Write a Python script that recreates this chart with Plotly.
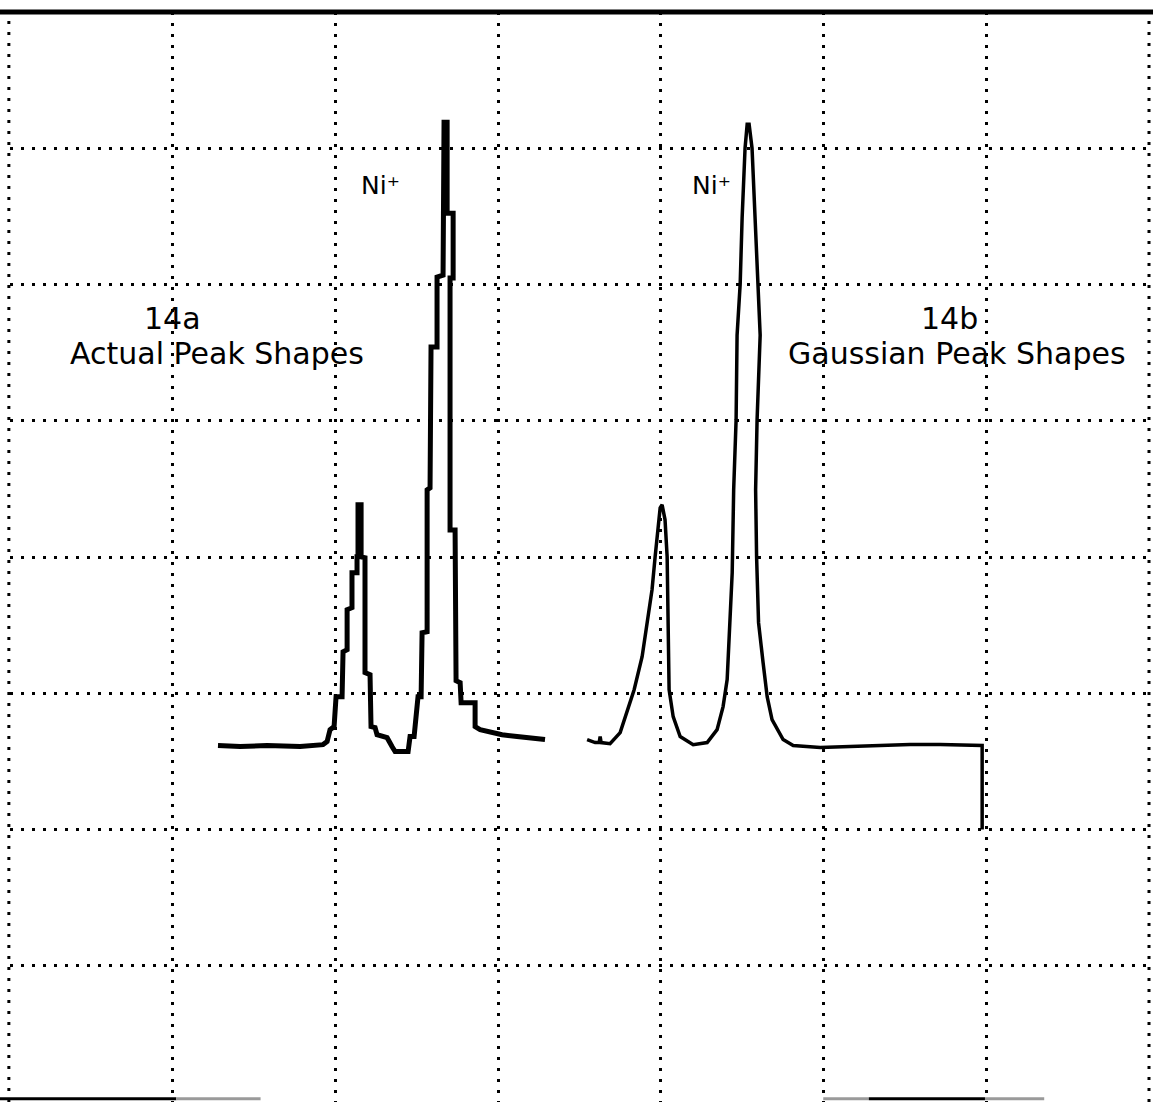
import plotly.graph_objects as go

# Grid units: 10 per major division (7 divisions across, 8 down)
# 14a - actual (stepped) peak shapes
actual_x = [12.77, 14.13, 15.79, 17.82, 19.23, 19.48, 19.66, 19.91, 20.03, 20.40,
            20.46, 20.71, 20.71, 21.01, 21.01, 21.32, 21.32, 21.38, 21.38, 21.57,
            21.57, 21.81, 21.81, 22.12, 22.18, 22.43, 22.55, 23.17, 23.47, 23.66,
            24.46, 24.58, 24.83, 25.07, 25.26, 25.32, 25.63, 25.63, 25.81, 25.87,
            26.24, 26.24, 26.61, 26.67, 26.86, 26.86, 27.23, 27.23, 27.04, 27.04,
            27.35, 27.41, 27.66, 27.72, 28.58, 28.58, 28.89, 29.69, 30.24, 31.16,
            32.15, 32.88]
actual_y = [26.16, 26.09, 26.16, 26.09, 26.23, 26.45, 27.33, 27.55, 29.75, 29.75,
            33.05, 33.20, 36.13, 36.28, 38.84, 38.84, 40.01, 40.01, 43.83, 43.83,
            40.01, 39.94, 31.51, 31.36, 27.55, 27.48, 26.96, 26.74, 26.09, 25.72,
            25.72, 26.82, 26.82, 29.75, 29.75, 34.44, 34.52, 44.93, 45.07, 55.41,
            55.41, 60.54, 60.69, 71.91, 71.91, 65.23, 65.23, 60.47, 60.47, 41.99,
            41.99, 30.92, 30.78, 29.31, 29.31, 27.55, 27.33, 27.11, 26.96, 26.82,
            26.74, 26.60]

# 14b - Gaussian peak shapes
gauss_x = [35.47, 35.96, 36.21, 36.27, 36.33, 36.88, 37.50, 38.11, 38.36, 38.85,
           39.16, 39.46, 39.65, 39.83, 39.96, 40.08, 40.26, 40.39, 40.45, 40.51,
           40.76, 41.19, 41.99, 42.85, 43.46, 43.83, 44.08, 44.26, 44.39, 44.48,
           44.63, 44.69, 44.88, 45.00, 45.18, 45.31, 45.43, 45.61, 45.80, 46.01,
           46.11, 45.92, 45.83, 45.89, 46.01, 46.29, 46.54, 46.84, 47.52, 48.14,
           49.80, 51.64, 53.49, 55.33, 57.18, 58.71, 59.64, 59.76, 59.76]
gauss_y = [26.60, 26.38, 26.38, 26.82, 26.38, 26.30, 27.11, 29.31, 30.26, 32.68,
           35.18, 37.60, 40.01, 42.51, 43.61, 43.83, 42.73, 40.01, 35.18, 30.26,
           28.28, 26.82, 26.23, 26.38, 27.33, 29.02, 31.00, 35.18, 38.84, 44.93,
           50.06, 56.29, 60.03, 64.87, 70.00, 71.76, 71.76, 70.00, 64.87, 60.03,
           56.29, 50.06, 44.93, 40.01, 35.18, 32.24, 29.75, 28.06, 26.60, 26.16,
           26.01, 26.09, 26.16, 26.23, 26.23, 26.16, 26.16, 26.16, 20.00]

label_a = ["14a", "Actual Peak Shapes"]
label_b = ["14b", "Gaussian Peak Shapes"]
ion_label = "Ni\u207a"

fig = go.Figure()
fig.add_trace(go.Scatter(x=actual_x, y=actual_y, mode="lines",
                         line=dict(color="black", width=5), hoverinfo="skip"))
fig.add_trace(go.Scatter(x=gauss_x, y=gauss_y, mode="lines",
                         line=dict(color="black", width=3.5), hoverinfo="skip"))

font_big = dict(family="DejaVu Sans", size=30, color="black")
font_ion = dict(family="DejaVu Sans", size=25, color="black")
ann = [
    dict(x=10.0, y=57.50, text=label_a[0], font=font_big),
    dict(x=12.71, y=54.93, text=label_a[1], font=font_big),
    dict(x=57.73, y=57.50, text=label_b[0], font=font_big),
    dict(x=58.22, y=54.93, text=label_b[1], font=font_big),
    dict(x=22.75, y=67.30, text=ion_label, font=font_ion),
    dict(x=43.10, y=67.30, text=ion_label, font=font_ion),
]
for a in ann:
    a.update(xref="x", yref="y", showarrow=False, xanchor="center", yanchor="middle")

dot = "3px,8px"
shapes = [
    dict(type="line", xref="paper", yref="paper", x0=-0.02, x1=1.02, y0=1.0, y1=1.0,
         line=dict(color="black", width=5)),
    dict(type="line", xref="paper", yref="paper", x0=-0.001, x1=-0.001, y0=0, y1=1,
         line=dict(color="black", width=3, dash=dot)),
    dict(type="line", xref="paper", yref="paper", x0=1.0, x1=1.0, y0=0, y1=1,
         line=dict(color="black", width=3, dash=dot)),
    dict(type="line", xref="paper", yref="paper", x0=-0.01, x1=0.146, y0=0.003, y1=0.003,
         line=dict(color="black", width=3)),
    dict(type="line", xref="paper", yref="paper", x0=0.146, x1=0.22, y0=0.003, y1=0.003,
         line=dict(color="#9a9a9a", width=3)),
    dict(type="line", xref="paper", yref="paper", x0=0.714, x1=0.754, y0=0.003, y1=0.003,
         line=dict(color="#9a9a9a", width=3)),
    dict(type="line", xref="paper", yref="paper", x0=0.754, x1=0.856, y0=0.003, y1=0.003,
         line=dict(color="black", width=3)),
    dict(type="line", xref="paper", yref="paper", x0=0.856, x1=0.908, y0=0.003, y1=0.003,
         line=dict(color="#9a9a9a", width=3)),
]

grid = dict(showgrid=True, gridcolor="black", gridwidth=3, griddash=dot,
            zeroline=False, showticklabels=False, ticks="", showline=False, dtick=10,
            tick0=0, fixedrange=True)
fig.update_layout(
    width=1153, height=1102,
    margin=dict(l=10, r=4, t=12, b=0, pad=0),
    paper_bgcolor="white", plot_bgcolor="white",
    showlegend=False,
    xaxis=dict(range=[-0.02, 70.02], **grid),
    yaxis=dict(range=[0, 80], **grid),
    annotations=ann, shapes=shapes,
)
fig.write_html("out.html")
